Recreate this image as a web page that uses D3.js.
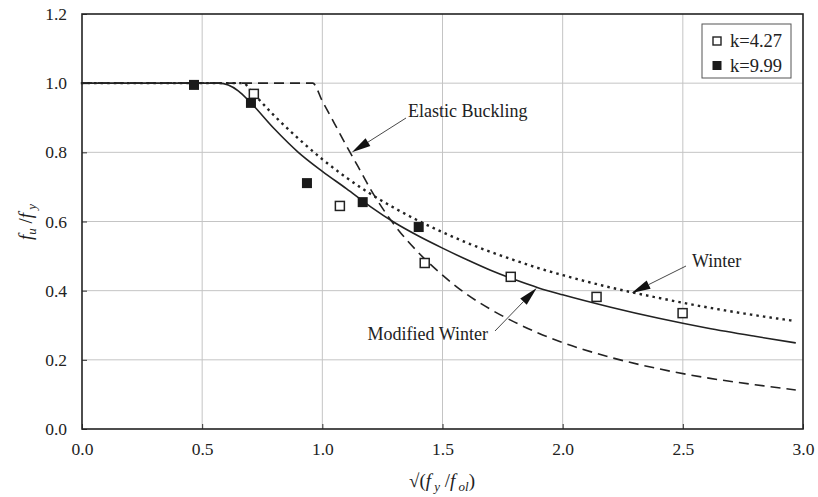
<!DOCTYPE html>
<html><head><meta charset="utf-8">
<script src="https://cdn.jsdelivr.net/npm/d3@7/dist/d3.min.js"></script>
<style>body{margin:0;background:#fff}svg{display:block}svg text{font-family:"Liberation Serif","Times New Roman",serif !important;fill:#222}</style>
</head><body><svg id="c" width="818" height="497"></svg>
<script>
// ---- data ----
const xTicks = [0.0, 0.5, 1.0, 1.5, 2.0, 2.5, 3.0];
const yTicks = [0.0, 0.2, 0.4, 0.6, 0.8, 1.0, 1.2];
const seriesNames = ["k=4.27", "k=9.99"];
const k427_x = [0.715, 1.073, 1.426, 1.784, 2.141, 2.499];
const k427_y = [0.969, 0.645, 0.480, 0.440, 0.382, 0.335];
const k999_x = [0.466, 0.703, 0.936, 1.168, 1.401];
const k999_y = [0.995, 0.943, 0.711, 0.656, 0.584];
const curveX_modWinter = [0, 0.57, 0.65, 0.70, 0.80, 0.90, 1.0, 1.1, 1.2, 1.3, 1.4, 1.5, 1.6, 1.7, 1.8, 1.9, 2.0, 2.2, 2.4, 2.6, 2.8, 2.97];
const curveY_modWinter = [1, 1, 0.978, 0.945, 0.868, 0.80, 0.745, 0.695, 0.643, 0.597, 0.558, 0.523, 0.49, 0.459, 0.432, 0.408, 0.388, 0.352, 0.32, 0.292, 0.268, 0.249];
const curveX_winter = [0, 0.673, 0.70, 0.80, 0.90, 1.0, 1.1, 1.2, 1.3, 1.4, 1.5, 1.6, 1.7, 1.8, 1.9, 2.0, 2.2, 2.4, 2.6, 2.8, 2.97];
const curveY_winter = [1, 1, 0.98, 0.906, 0.84, 0.78, 0.727, 0.68, 0.639, 0.602, 0.569, 0.539, 0.512, 0.488, 0.465, 0.445, 0.409, 0.379, 0.352, 0.329, 0.312];
const curveX_elastic = [0, 0.96, 1.0, 1.05, 1.1, 1.15, 1.2, 1.3, 1.4, 1.5, 1.6, 1.7, 1.8, 1.9, 2.0, 2.2, 2.4, 2.6, 2.8, 2.97];
const curveY_elastic = [1, 1, 0.948, 0.884, 0.819, 0.757, 0.694, 0.59, 0.51, 0.445, 0.39, 0.346, 0.309, 0.277, 0.25, 0.207, 0.174, 0.148, 0.128, 0.113];
const annotations = [
  {text: "Elastic Buckling", tx: 408, ty: 117, anchor: "start", from: [406, 118], at: [1.123, 0.80]},
  {text: "Winter", tx: 692, ty: 267, anchor: "start", from: [686, 266], at: [2.287, 0.393]},
  {text: "Modified Winter", tx: 488, ty: 340, anchor: "end", from: [495, 331], at: [1.892, 0.408]}
];

// ---- chart ----
const FONT = "'Liberation Serif', 'Times New Roman', serif";
const svg = d3.select("#c");
const x = d3.scaleLinear().domain([0, 3]).range([82, 803]);
const y = d3.scaleLinear().domain([0, 1.2]).range([429, 14]);

// grid
const g = svg.append("g");
g.selectAll(".vx").data(xTicks.slice(1, -1)).join("line")
  .attr("x1", d => x(d)).attr("x2", d => x(d)).attr("y1", y(0)).attr("y2", y(1.2))
  .attr("stroke", "#c4c4c4").attr("stroke-width", 1);
g.selectAll(".hy").data(yTicks.slice(1, -1)).join("line")
  .attr("y1", d => y(d)).attr("y2", d => y(d)).attr("x1", x(0)).attr("x2", x(3))
  .attr("stroke", "#c4c4c4").attr("stroke-width", 1);

// axes (ticks inward)
const xAxis = d3.axisBottom(x).tickValues(xTicks).tickFormat(d3.format(".1f")).tickSizeInner(-5).tickSizeOuter(0).tickPadding(14);
const yAxis = d3.axisLeft(y).tickValues(yTicks).tickFormat(d3.format(".1f")).tickSizeInner(-5).tickSizeOuter(0).tickPadding(15);
const ax = svg.append("g").attr("transform", `translate(0,${y(0)})`).call(xAxis);
const ay = svg.append("g").attr("transform", `translate(${x(0)},0)`).call(yAxis);
[ax, ay].forEach(a => {
  a.attr("font-family", FONT);
  a.select(".domain").remove();
  a.selectAll("line").attr("stroke", "#333");
  a.selectAll("text").attr("font-size", 17.5).attr("fill", "#222").attr("font-family", FONT);
});

// frame
svg.append("rect").attr("x", x(0)).attr("y", y(1.2)).attr("width", x(3) - x(0)).attr("height", y(0) - y(1.2))
  .attr("fill", "none").attr("stroke", "#222").attr("stroke-width", 1.6);

// curves
const line = d3.line().x(d => x(d[0])).y(d => y(d[1])).curve(d3.curveMonotoneX);
const zip = (a, b) => a.map((v, i) => [v, b[i]]);
svg.append("path").datum(zip(curveX_elastic, curveY_elastic)).attr("d", line)
  .attr("fill", "none").attr("stroke", "#222").attr("stroke-width", 1.6).attr("stroke-dasharray", "10,6");
svg.append("path").datum(zip(curveX_winter, curveY_winter)).attr("d", line)
  .attr("fill", "none").attr("stroke", "#222").attr("stroke-width", 2.4).attr("stroke-dasharray", "0.1,6.5").attr("stroke-linecap", "square");
svg.append("path").datum(zip(curveX_modWinter, curveY_modWinter)).attr("d", line)
  .attr("fill", "none").attr("stroke", "#222").attr("stroke-width", 1.6);

// points
svg.selectAll(".o").data(zip(k427_x, k427_y)).join("rect")
  .attr("x", d => x(d[0]) - 4.5).attr("y", d => y(d[1]) - 4.5).attr("width", 9).attr("height", 9)
  .attr("fill", "#fff").attr("stroke", "#222").attr("stroke-width", 1.5);
svg.selectAll(".f").data(zip(k999_x, k999_y)).join("rect")
  .attr("x", d => x(d[0]) - 5).attr("y", d => y(d[1]) - 5).attr("width", 10).attr("height", 10)
  .attr("fill", "#1a1a1a");

// annotations
annotations.forEach(a => {
  const tip = [x(a.at[0]), y(a.at[1])];
  const dx = a.from[0] - tip[0], dy = a.from[1] - tip[1];
  const L = Math.hypot(dx, dy), ux = dx / L, uy = dy / L;
  const hl = 19, hw = 4.5;
  const bx = tip[0] + ux * hl, by = tip[1] + uy * hl;
  svg.append("line").attr("x1", a.from[0]).attr("y1", a.from[1]).attr("x2", bx).attr("y2", by)
    .attr("stroke", "#333").attr("stroke-width", 0.9);
  svg.append("path").attr("d", `M${tip[0]},${tip[1]}L${bx - uy * hw},${by + ux * hw}L${bx + uy * hw},${by - ux * hw}Z`)
    .attr("fill", "#111");
  svg.append("text").attr("x", a.tx).attr("y", a.ty).attr("text-anchor", a.anchor).attr("font-size", 18)
    .attr("font-family", FONT).text(a.text);
});

// legend
const lg = svg.append("g");
lg.append("rect").attr("x", 702).attr("y", 24).attr("width", 89).attr("height", 54)
  .attr("fill", "#fff").attr("stroke", "#555").attr("stroke-width", 1);
lg.append("rect").attr("x", 713).attr("y", 37).attr("width", 8).attr("height", 8).attr("fill", "#fff").attr("stroke", "#222").attr("stroke-width", 1.4);
lg.append("rect").attr("x", 712.5).attr("y", 61).attr("width", 9).attr("height", 9).attr("fill", "#1a1a1a");
lg.append("text").attr("x", 730).attr("y", 47).attr("font-size", 18.5).attr("font-family", FONT).text(seriesNames[0]);
lg.append("text").attr("x", 730).attr("y", 72).attr("font-size", 18.5).attr("font-family", FONT).text(seriesNames[1]);

// axis titles
const yl = svg.append("text").attr("transform", "translate(32,222) rotate(-90)").attr("text-anchor", "middle")
  .attr("font-size", 19).attr("font-family", FONT);
yl.append("tspan").attr("font-style", "italic").text("f");
yl.append("tspan").attr("font-style", "italic").attr("font-size", 13).attr("dy", 4).text("u");
yl.append("tspan").attr("dy", -4).text(" /");
yl.append("tspan").attr("font-style", "italic").text("f");
yl.append("tspan").attr("font-style", "italic").attr("font-size", 13).attr("dy", 4).text(" y");

const xl = svg.append("text").attr("x", 442).attr("y", 487).attr("text-anchor", "middle")
  .attr("font-size", 19).attr("font-family", FONT);
xl.append("tspan").text("√(");
xl.append("tspan").attr("font-style", "italic").text("f");
xl.append("tspan").attr("font-style", "italic").attr("font-size", 13).attr("dy", 4).text(" y");
xl.append("tspan").attr("dy", -4).text(" /");
xl.append("tspan").attr("font-style", "italic").text("f");
xl.append("tspan").attr("font-style", "italic").attr("font-size", 13).attr("dy", 4).text(" ol");
xl.append("tspan").attr("dy", -4).text(")");
</script></body></html>
